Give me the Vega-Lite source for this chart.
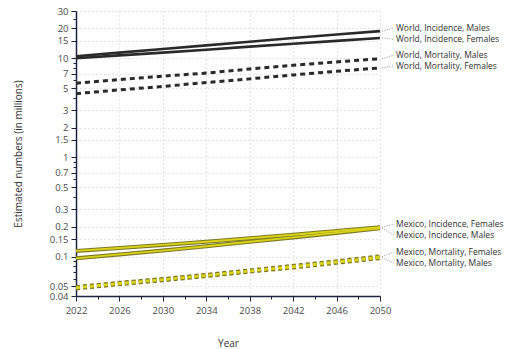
{
  "$schema": "https://vega.github.io/schema/vega-lite/v6.json",
  "width": 304,
  "height": 285,
  "autosize": "none",
  "padding": {"left": 76, "top": 11, "right": 131, "bottom": 53},
  "background": "white",
  "config": {
    "font": "Open Sans",
    "view": {"stroke": null},
    "axis": {
      "labelFont": "Open Sans",
      "labelFontSize": 9.5,
      "labelColor": "#4a4a4a",
      "titleFont": "Open Sans",
      "titleFontSize": 10,
      "titleFontWeight": "normal",
      "titleColor": "#333333",
      "domainColor": "#1c2340",
      "domainWidth": 1.5,
      "tickColor": "#1c2340",
      "gridColor": "#c8c8c8",
      "gridDash": [1, 3],
      "gridWidth": 1
    }
  },
  "datasets": {
    "series": [
      {"series": "World, Incidence, Males", "region": "World", "measure": "Incidence", "year": 2022, "value": 10.5},
      {"series": "World, Incidence, Males", "region": "World", "measure": "Incidence", "year": 2026, "value": 11.4},
      {"series": "World, Incidence, Males", "region": "World", "measure": "Incidence", "year": 2030, "value": 12.4},
      {"series": "World, Incidence, Males", "region": "World", "measure": "Incidence", "year": 2034, "value": 13.5},
      {"series": "World, Incidence, Males", "region": "World", "measure": "Incidence", "year": 2038, "value": 14.7},
      {"series": "World, Incidence, Males", "region": "World", "measure": "Incidence", "year": 2042, "value": 16.0},
      {"series": "World, Incidence, Males", "region": "World", "measure": "Incidence", "year": 2046, "value": 17.4},
      {"series": "World, Incidence, Males", "region": "World", "measure": "Incidence", "year": 2050, "value": 18.8},
      {"series": "World, Incidence, Females", "region": "World", "measure": "Incidence", "year": 2022, "value": 10.0},
      {"series": "World, Incidence, Females", "region": "World", "measure": "Incidence", "year": 2026, "value": 10.7},
      {"series": "World, Incidence, Females", "region": "World", "measure": "Incidence", "year": 2030, "value": 11.4},
      {"series": "World, Incidence, Females", "region": "World", "measure": "Incidence", "year": 2034, "value": 12.2},
      {"series": "World, Incidence, Females", "region": "World", "measure": "Incidence", "year": 2038, "value": 13.1},
      {"series": "World, Incidence, Females", "region": "World", "measure": "Incidence", "year": 2042, "value": 14.0},
      {"series": "World, Incidence, Females", "region": "World", "measure": "Incidence", "year": 2046, "value": 15.0},
      {"series": "World, Incidence, Females", "region": "World", "measure": "Incidence", "year": 2050, "value": 16.0},
      {"series": "World, Mortality, Males", "region": "World", "measure": "Mortality", "year": 2022, "value": 5.6},
      {"series": "World, Mortality, Males", "region": "World", "measure": "Mortality", "year": 2026, "value": 6.1},
      {"series": "World, Mortality, Males", "region": "World", "measure": "Mortality", "year": 2030, "value": 6.6},
      {"series": "World, Mortality, Males", "region": "World", "measure": "Mortality", "year": 2034, "value": 7.1},
      {"series": "World, Mortality, Males", "region": "World", "measure": "Mortality", "year": 2038, "value": 7.8},
      {"series": "World, Mortality, Males", "region": "World", "measure": "Mortality", "year": 2042, "value": 8.5},
      {"series": "World, Mortality, Males", "region": "World", "measure": "Mortality", "year": 2046, "value": 9.2},
      {"series": "World, Mortality, Males", "region": "World", "measure": "Mortality", "year": 2050, "value": 9.9},
      {"series": "World, Mortality, Females", "region": "World", "measure": "Mortality", "year": 2022, "value": 4.4},
      {"series": "World, Mortality, Females", "region": "World", "measure": "Mortality", "year": 2026, "value": 4.8},
      {"series": "World, Mortality, Females", "region": "World", "measure": "Mortality", "year": 2030, "value": 5.2},
      {"series": "World, Mortality, Females", "region": "World", "measure": "Mortality", "year": 2034, "value": 5.7},
      {"series": "World, Mortality, Females", "region": "World", "measure": "Mortality", "year": 2038, "value": 6.2},
      {"series": "World, Mortality, Females", "region": "World", "measure": "Mortality", "year": 2042, "value": 6.8},
      {"series": "World, Mortality, Females", "region": "World", "measure": "Mortality", "year": 2046, "value": 7.4},
      {"series": "World, Mortality, Females", "region": "World", "measure": "Mortality", "year": 2050, "value": 8.0},
      {"series": "Mexico, Incidence, Females", "region": "Mexico", "measure": "Incidence", "year": 2022, "value": 0.114},
      {"series": "Mexico, Incidence, Females", "region": "Mexico", "measure": "Incidence", "year": 2026, "value": 0.122},
      {"series": "Mexico, Incidence, Females", "region": "Mexico", "measure": "Incidence", "year": 2030, "value": 0.131},
      {"series": "Mexico, Incidence, Females", "region": "Mexico", "measure": "Incidence", "year": 2034, "value": 0.141},
      {"series": "Mexico, Incidence, Females", "region": "Mexico", "measure": "Incidence", "year": 2038, "value": 0.153},
      {"series": "Mexico, Incidence, Females", "region": "Mexico", "measure": "Incidence", "year": 2042, "value": 0.166},
      {"series": "Mexico, Incidence, Females", "region": "Mexico", "measure": "Incidence", "year": 2046, "value": 0.181},
      {"series": "Mexico, Incidence, Females", "region": "Mexico", "measure": "Incidence", "year": 2050, "value": 0.198},
      {"series": "Mexico, Incidence, Males", "region": "Mexico", "measure": "Incidence", "year": 2022, "value": 0.096},
      {"series": "Mexico, Incidence, Males", "region": "Mexico", "measure": "Incidence", "year": 2026, "value": 0.105},
      {"series": "Mexico, Incidence, Males", "region": "Mexico", "measure": "Incidence", "year": 2030, "value": 0.115},
      {"series": "Mexico, Incidence, Males", "region": "Mexico", "measure": "Incidence", "year": 2034, "value": 0.127},
      {"series": "Mexico, Incidence, Males", "region": "Mexico", "measure": "Incidence", "year": 2038, "value": 0.141},
      {"series": "Mexico, Incidence, Males", "region": "Mexico", "measure": "Incidence", "year": 2042, "value": 0.156},
      {"series": "Mexico, Incidence, Males", "region": "Mexico", "measure": "Incidence", "year": 2046, "value": 0.173},
      {"series": "Mexico, Incidence, Males", "region": "Mexico", "measure": "Incidence", "year": 2050, "value": 0.193},
      {"series": "Mexico, Mortality, Females", "region": "Mexico", "measure": "Mortality", "year": 2022, "value": 0.049},
      {"series": "Mexico, Mortality, Females", "region": "Mexico", "measure": "Mortality", "year": 2026, "value": 0.054},
      {"series": "Mexico, Mortality, Females", "region": "Mexico", "measure": "Mortality", "year": 2030, "value": 0.059},
      {"series": "Mexico, Mortality, Females", "region": "Mexico", "measure": "Mortality", "year": 2034, "value": 0.065},
      {"series": "Mexico, Mortality, Females", "region": "Mexico", "measure": "Mortality", "year": 2038, "value": 0.072},
      {"series": "Mexico, Mortality, Females", "region": "Mexico", "measure": "Mortality", "year": 2042, "value": 0.080},
      {"series": "Mexico, Mortality, Females", "region": "Mexico", "measure": "Mortality", "year": 2046, "value": 0.089},
      {"series": "Mexico, Mortality, Females", "region": "Mexico", "measure": "Mortality", "year": 2050, "value": 0.100},
      {"series": "Mexico, Mortality, Males", "region": "Mexico", "measure": "Mortality", "year": 2022, "value": 0.048},
      {"series": "Mexico, Mortality, Males", "region": "Mexico", "measure": "Mortality", "year": 2026, "value": 0.053},
      {"series": "Mexico, Mortality, Males", "region": "Mexico", "measure": "Mortality", "year": 2030, "value": 0.058},
      {"series": "Mexico, Mortality, Males", "region": "Mexico", "measure": "Mortality", "year": 2034, "value": 0.064},
      {"series": "Mexico, Mortality, Males", "region": "Mexico", "measure": "Mortality", "year": 2038, "value": 0.071},
      {"series": "Mexico, Mortality, Males", "region": "Mexico", "measure": "Mortality", "year": 2042, "value": 0.078},
      {"series": "Mexico, Mortality, Males", "region": "Mexico", "measure": "Mortality", "year": 2046, "value": 0.087},
      {"series": "Mexico, Mortality, Males", "region": "Mexico", "measure": "Mortality", "year": 2050, "value": 0.097}
    ],
    "labels": [
      {"series": "World, Incidence, Males", "year": 2050, "value": 18.8, "labelValue": 20.2},
      {"series": "World, Incidence, Females", "year": 2050, "value": 16.0, "labelValue": 15.6},
      {"series": "World, Mortality, Males", "year": 2050, "value": 9.9, "labelValue": 10.8},
      {"series": "World, Mortality, Females", "year": 2050, "value": 8.0, "labelValue": 8.4},
      {"series": "Mexico, Incidence, Females", "year": 2050, "value": 0.198, "labelValue": 0.213},
      {"series": "Mexico, Incidence, Males", "year": 2050, "value": 0.193, "labelValue": 0.165},
      {"series": "Mexico, Mortality, Females", "year": 2050, "value": 0.100, "labelValue": 0.111},
      {"series": "Mexico, Mortality, Males", "year": 2050, "value": 0.097, "labelValue": 0.086}
    ]
  },
  "resolve": {"axis": {"x": "independent", "y": "independent"}},
  "layer": [
    {
      "data": {"name": "series"},
      "transform": [{"filter": "datum.region === 'World' && datum.measure === 'Incidence'"}],
      "mark": {"type": "line", "color": "#2a2a2a", "strokeWidth": 2.6, "clip": false},
      "encoding": {
        "x": {"field": "year", "type": "quantitative",
          "scale": {"domain": [2022, 2050], "nice": false, "zero": false},
          "axis": {"values": [2022, 2026, 2030, 2034, 2038, 2042, 2046, 2050], "format": "d", "title": "Year", "titlePadding": 24, "tickSize": 5, "labelPadding": 4, "grid": true, "labelFlush": false}},
        "y": {"field": "value", "type": "quantitative",
          "scale": {"type": "log", "domain": [0.04, 30], "nice": false},
          "axis": {"values": [0.04, 0.05, 0.1, 0.15, 0.2, 0.3, 0.5, 0.7, 1, 1.5, 2, 3, 5, 7, 10, 15, 20, 30], "format": "~g", "title": "Estimated numbers (in millions)", "titlePadding": 26, "tickSize": 5, "labelPadding": 3, "grid": true}},
        "detail": {"field": "series"}
      }
    },
    {
      "data": {"name": "series"},
      "transform": [{"filter": "datum.region === 'World' && datum.measure === 'Mortality'"}],
      "mark": {"type": "line", "color": "#2a2a2a", "strokeWidth": 3, "strokeDash": [5, 4]},
      "encoding": {
        "x": {"field": "year", "type": "quantitative",
          "axis": {"orient": "bottom", "values": [2024, 2028, 2032, 2036, 2040, 2044, 2048], "labels": false, "domain": false, "grid": false, "tickSize": 3, "title": null}},
        "y": {"field": "value", "type": "quantitative",
          "axis": {"orient": "left", "values": [0.06, 0.07, 0.08, 0.09, 0.4, 0.6, 0.8, 0.9, 4, 6, 8, 9, 25], "labels": false, "domain": false, "grid": false, "tickSize": 3, "title": null}},
        "detail": {"field": "series"}
      }
    },
    {
      "data": {"name": "series"},
      "transform": [{"filter": "datum.region === 'Mexico' && datum.measure === 'Incidence'"}],
      "mark": {"type": "line", "color": "#7d7a22", "strokeWidth": 4},
      "encoding": {
        "x": {"field": "year", "type": "quantitative", "axis": null},
        "y": {"field": "value", "type": "quantitative", "axis": null},
        "detail": {"field": "series"}
      }
    },
    {
      "data": {"name": "series"},
      "transform": [{"filter": "datum.region === 'Mexico' && datum.measure === 'Incidence'"}],
      "mark": {"type": "line", "color": "#d9d31e", "strokeWidth": 1.8},
      "encoding": {
        "x": {"field": "year", "type": "quantitative", "axis": null},
        "y": {"field": "value", "type": "quantitative", "axis": null},
        "detail": {"field": "series"}
      }
    },
    {
      "data": {"name": "series"},
      "transform": [{"filter": "datum.region === 'Mexico' && datum.measure === 'Mortality'"}],
      "mark": {"type": "line", "color": "#7d7a22", "strokeWidth": 4.5, "strokeDash": [4, 3]},
      "encoding": {
        "x": {"field": "year", "type": "quantitative", "axis": null},
        "y": {"field": "value", "type": "quantitative", "axis": null},
        "detail": {"field": "series"}
      }
    },
    {
      "data": {"name": "series"},
      "transform": [{"filter": "datum.region === 'Mexico' && datum.measure === 'Mortality'"}],
      "mark": {"type": "line", "color": "#d9d31e", "strokeWidth": 2, "strokeDash": [4, 3]},
      "encoding": {
        "x": {"field": "year", "type": "quantitative", "axis": null},
        "y": {"field": "value", "type": "quantitative", "axis": null},
        "detail": {"field": "series"}
      }
    },
    {
      "data": {"name": "labels"},
      "mark": {"type": "rule", "color": "#777777", "strokeWidth": 0.8, "strokeDash": [1, 1.5], "xOffset": 2, "x2Offset": 14, "clip": false},
      "encoding": {
        "x": {"field": "year", "type": "quantitative", "axis": null},
        "x2": {"field": "year"},
        "y": {"field": "value", "type": "quantitative", "axis": null},
        "y2": {"field": "labelValue"}
      }
    },
    {
      "data": {"name": "labels"},
      "mark": {"type": "text", "align": "left", "baseline": "middle", "dx": 16, "fontSize": 8.5, "color": "#2f2f2f", "font": "Open Sans"},
      "encoding": {
        "x": {"field": "year", "type": "quantitative", "axis": null},
        "y": {"field": "labelValue", "type": "quantitative", "axis": null},
        "text": {"field": "series"}
      }
    }
  ]
}
